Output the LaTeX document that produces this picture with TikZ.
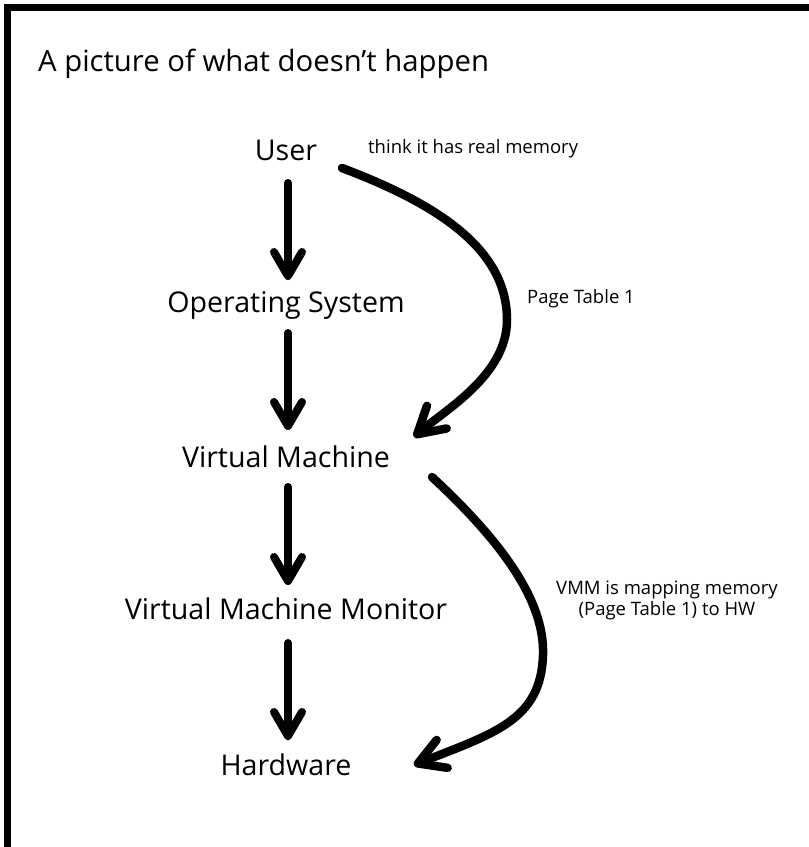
\documentclass[tikz,border=0pt]{standalone}
\usepackage{fontspec}
\setmainfont{Open Sans}
\usetikzlibrary{arrows.meta}
\begin{document}
\begin{tikzpicture}[x=1pt,y=-1pt,
  lbl/.style={anchor=base,inner sep=0pt,font=\fontsize{28.6}{32}\selectfont},
  small/.style={inner sep=0pt,font=\fontsize{18.5}{21}\selectfont},
  arr/.style={line width=8pt,line cap=round,line join=round,
    -{Straight Barb[length=24pt,width=28pt,round]}},
  carr/.style={line width=8.5pt,line cap=round,line join=round,
    -{Straight Barb[length=26pt,width=30pt,round]}}]
\useasboundingbox (0,0) rectangle (809,847);
\fill[white] (0,0) rectangle (809,847);
% border
\fill[black] (4,4) rectangle (809,11);
\fill[black] (4,4) rectangle (11,847);
% title
\node[anchor=base west,inner sep=0pt,font=\fontsize{29.3}{32}\selectfont] (title) at (38,71) {A picture of what doesn’t happen};
% main labels
\node[lbl] (user) at (286,160) {User};
\node[lbl] (os) at (286,312) {Operating System};
\node[lbl] (vm) at (286,467) {Virtual Machine};
\node[lbl] (vmm) at (286,619) {Virtual Machine Monitor};
\node[lbl] (hw) at (286,775) {Hardware};
% side notes
\node[small,anchor=base west] (think) at (368,153) {think it has real memory};
\node[small,anchor=base west] (pt1) at (527,303) {Page Table 1};
\node[small,anchor=base,align=center] (vmmnote) at (667,615) {VMM is mapping memory\\(Page Table 1) to HW};
% straight arrows
\draw[arr,shorten <=23pt,shorten >=32pt] ([xshift=2pt]user.base) -- ([xshift=2pt]os.base);
\draw[arr,shorten <=21pt,shorten >=37pt] ([xshift=2pt]os.base) -- ([xshift=2pt]vm.base);
\draw[arr,shorten <=20pt,shorten >=34pt] ([xshift=2pt]vm.base) -- ([xshift=2pt]vmm.base);
\draw[arr,shorten <=24pt,shorten >=35pt] ([xshift=2pt]vmm.base) -- ([xshift=2pt]hw.base);
% curved arrows
\coordinate (c1s) at (342,168);
\coordinate (c1e) at (414,437);
\coordinate (c2s) at (432,477);
\coordinate (c2e) at (414,765);
\draw[carr] (c1s) .. controls (440,205) and (507,250) .. (507,320)
  .. controls (507,375) and (445,410) .. (c1e);
\draw[carr] (c2s) .. controls (500,540) and (545,600) .. (543,655)
  .. controls (541,720) and (495,733) .. (c2e);
\end{tikzpicture}
\end{document}
